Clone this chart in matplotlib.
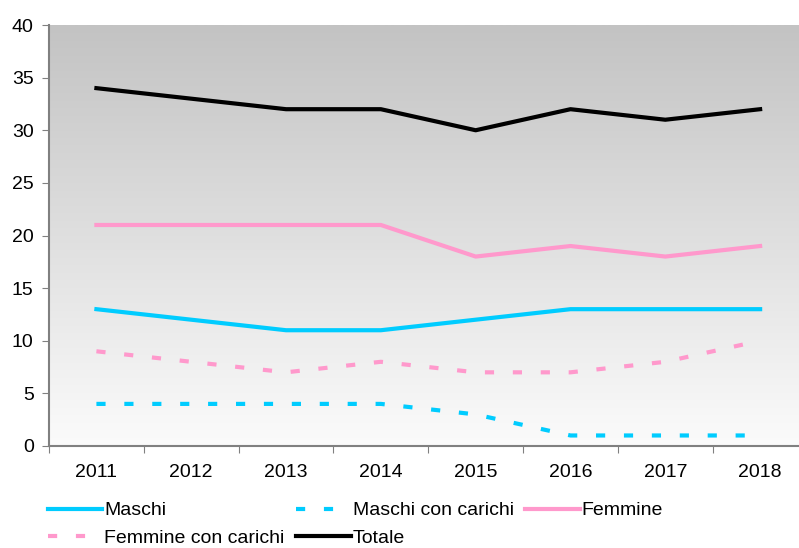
import numpy as np
import matplotlib
matplotlib.use('Agg')
import matplotlib.pyplot as plt
from matplotlib.colors import LinearSegmentedColormap

plt.rcParams['font.family'] = ['Liberation Sans', 'DejaVu Sans']

years = ['2011', '2012', '2013', '2014', '2015', '2016', '2017', '2018']
maschi = [13, 12, 11, 11, 12, 13, 13, 13]
maschi_carichi = [4, 4, 4, 4, 3, 1, 1, 1]
femmine = [21, 21, 21, 21, 18, 19, 18, 19]
femmine_carichi = [9, 8, 7, 8, 7, 7, 8, 10]
totale = [34, 33, 32, 32, 30, 32, 31, 32]

fig = plt.figure(figsize=(7.99, 5.48), dpi=100)
ax = fig.add_axes([49 / 799, 1 - 446 / 548, 1 - 49 / 799, (446 - 25) / 548])

# grey-to-white gradient in the plot area
cmap = LinearSegmentedColormap.from_list('bg', ['#fbfbfb', '#c3c3c3'])
grad = np.linspace(0, 1, 256).reshape(-1, 1)
ax.imshow(grad, extent=[0, 1, 0, 1], transform=ax.transAxes, aspect='auto',
          cmap=cmap, origin='lower', zorder=0)

x = np.arange(len(years))
lw = 3
dash = (0, (2.2, 4.5))
l1, = ax.plot(x, maschi, color='#00ccff', lw=lw, label='Maschi')
l2, = ax.plot(x, maschi_carichi, color='#00ccff', lw=lw, ls=dash, label='Maschi con carichi')
l3, = ax.plot(x, femmine, color='#ff99cc', lw=lw, label='Femmine')
l4, = ax.plot(x, femmine_carichi, color='#ff99cc', lw=lw, ls=dash, label='Femmine con carichi')
l5, = ax.plot(x, totale, color='black', lw=lw, label='Totale')

fs = 14
ax.set_xlim(-0.5, 7.41)
ax.set_ylim(0, 40)
ax.set_yticks(range(0, 41, 5))
ax.set_xticks(np.arange(-0.5, 7.5, 1))
ax.set_xticklabels([])
ax.set_xticks(x, minor=True)
ax.set_xticklabels(years, minor=True)
ax.tick_params(axis='x', which='minor', length=0, pad=13, labelsize=fs)
ax.tick_params(axis='x', which='major', length=5, color='#808080', direction='out')
ax.tick_params(axis='y', length=5, color='#808080', direction='out', pad=6, labelsize=fs)

for s in ['top', 'right']:
    ax.spines[s].set_visible(False)
for s in ['left', 'bottom']:
    ax.spines[s].set_color('#808080')
    ax.spines[s].set_linewidth(1.5)

handles = [l1, l4, l2, l5, l3]
fig.legend(handles=handles, labels=[h.get_label() for h in handles],
           ncol=3, loc='lower left', bbox_to_anchor=(40 / 799, -0.012),
           frameon=False, fontsize=fs, handlelength=2.8, handletextpad=0.1,
           columnspacing=0.6, labelspacing=0.5, borderaxespad=0.0)

fig.savefig('out.png', dpi=100)
